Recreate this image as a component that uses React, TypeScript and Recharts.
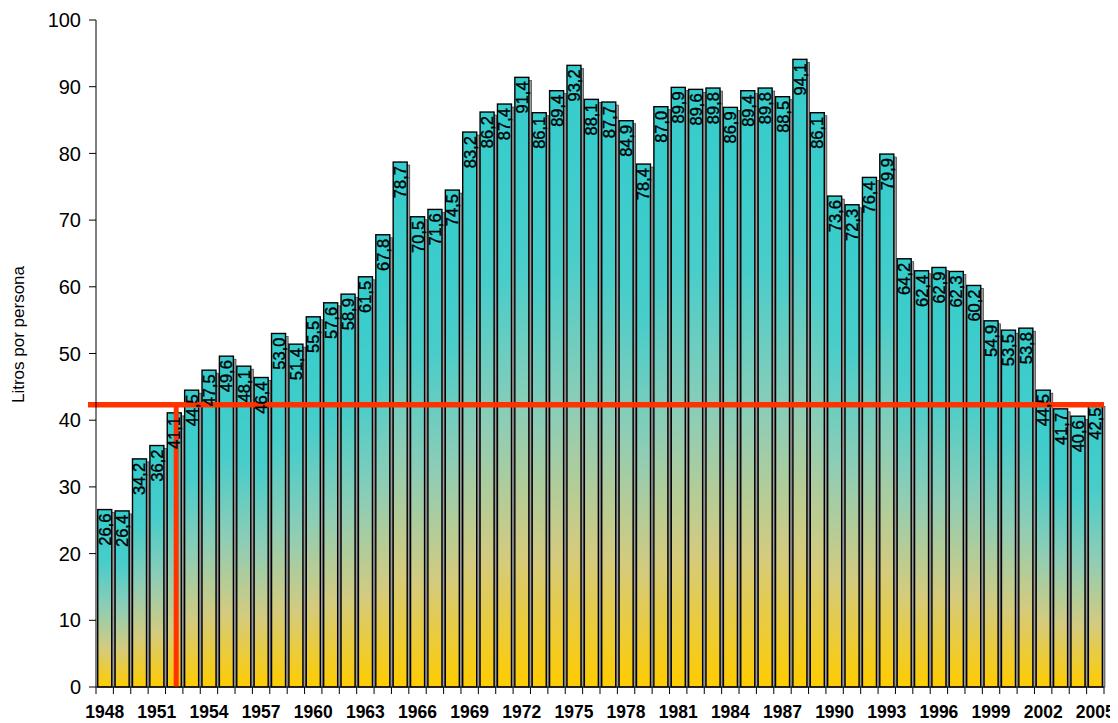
import React from 'react';
import { BarChart, Bar, XAxis, YAxis, ReferenceLine, LabelList } from 'recharts';

const years = [
  '1948','1949','1950','1951','1952','1953','1954','1955','1956','1957',
  '1958','1959','1960','1961','1962','1963','1964','1965','1966','1967',
  '1968','1969','1970','1971','1972','1973','1974','1975','1976','1977',
  '1978','1979','1980','1981','1982','1983','1984','1985','1986','1987',
  '1988','1989','1990','1991','1992','1993','1994','1995','1996','1997',
  '1998','1999','2000','2001','2002','2003','2004','2005',
];

const litros = [
  26.6, 26.4, 34.2, 36.2, 41.1, 44.5, 47.5, 49.6, 48.1, 46.4,
  53.0, 51.4, 55.5, 57.6, 58.9, 61.5, 67.8, 78.7, 70.5, 71.6,
  74.5, 83.2, 86.2, 87.4, 91.4, 86.1, 89.4, 93.2, 88.1, 87.7,
  84.9, 78.4, 87.0, 89.9, 89.6, 89.8, 86.9, 89.4, 89.8, 88.5,
  94.1, 86.1, 73.6, 72.3, 76.4, 79.9, 64.2, 62.4, 62.9, 62.3,
  60.2, 54.9, 53.5, 53.8, 44.5, 41.7, 40.6, 42.5,
];

const xTickLabels = ['1948','1951','1954','1957','1960','1963','1966','1969','1972','1975','1978','1981','1984','1987','1990','1993','1996','1999','2002','2005'];
const yTicks = [0, 10, 20, 30, 40, 50, 60, 70, 80, 90, 100];
const averageValue = 42.3;
const markerYear = '1952';

const data = years.map((year, i) => ({ year, value: litros[i] }));

const W = 1110;
const H = 715;
const M = { top: 12, right: 14, bottom: 6, left: 28 };
const YW = 60;
const BAND = (W - M.left - M.right - YW) / years.length;
const FONT = '"Liberation Sans", Arial, Helvetica, sans-serif';

const BarShape = (p: any) => {
  const { x, y, width, height } = p;
  if (!height || height <= 0) return null;
  return (
    <g>
      <rect x={x + width} y={y + 3} width={2.6} height={height - 3} fill="#9a9a9a" stroke="#222" strokeWidth={0.6} />
      <rect x={x} y={y} width={width} height={height} fill="url(#barGrad)" stroke="#000" strokeWidth={1.4} />
    </g>
  );
};

const XTick = (p: any) => {
  const { x, y, payload } = p;
  const idx = payload?.index ?? p.index ?? 0;
  const label = String(payload?.value);
  const show = xTickLabels.includes(label);
  return (
    <g>
      <line x1={x - BAND / 2} x2={x - BAND / 2} y1={y} y2={y + 7} stroke="#000" strokeWidth={1} />
      {idx === years.length - 1 && (
        <line x1={x + BAND / 2} x2={x + BAND / 2} y1={y} y2={y + 7} stroke="#000" strokeWidth={1} />
      )}
      {show && (
        <text x={x} y={y + 31} textAnchor="middle" fontSize={17.5} fontWeight="bold" fill="#000" fontFamily={FONT}>
          {label}
        </text>
      )}
    </g>
  );
};

const ValueLabel = (p: any) => {
  const { x, y, width, value } = p;
  const cx = x + width / 2;
  const ty = y + 4;
  return (
    <text
      x={cx}
      y={ty}
      transform={`rotate(-90 ${cx} ${ty})`}
      textAnchor="end"
      dominantBaseline="central"
      fontSize={16.5}
      fill="#000"
      stroke="#000"
      strokeWidth={0.4}
      fontFamily={FONT}
    >
      {Number(value).toFixed(1).replace('.', ',')}
    </text>
  );
};

const YLabel = (p: any) => {
  const vb = p.viewBox || { x: 0, y: 0, width: 0, height: 0 };
  const cx = 10;
  const cy = vb.y + vb.height / 2 - 19;
  return (
    <text
      x={cx}
      y={cy}
      transform={`rotate(-90 ${cx} ${cy})`}
      textAnchor="middle"
      dominantBaseline="central"
      fontSize={17}
      fill="#000"
      fontFamily={FONT}
    >
      Litros por persona
    </text>
  );
};

function YLabelWrap(p: any) {
  return <YLabel {...p} />;
}

export default function App() {
  return (
    <BarChart width={W} height={H} data={data} margin={M} barCategoryGap="10%">
      <defs>
        <linearGradient id="barGrad" x1="0" y1="0" x2="0" y2="1">
          <stop offset="0%" stopColor="#33CCCC" />
          <stop offset="30%" stopColor="#48CDCA" />
          <stop offset="55%" stopColor="#8ECDB6" />
          <stop offset="78%" stopColor="#D4CB7E" />
          <stop offset="100%" stopColor="#FFCC00" />
        </linearGradient>
      </defs>
      <XAxis
        dataKey="year"
        interval={0}
        tick={<XTick />}
        tickLine={false}
        tickSize={0}
        tickMargin={0}
        axisLine={{ stroke: '#000', strokeWidth: 1 }}
        height={30}
      />
      <YAxis
        width={YW}
        domain={[0, 100]}
        ticks={yTicks}
        interval={0}
        tickSize={7}
        tickMargin={8}
        tickLine={{ stroke: '#000' }}
        axisLine={{ stroke: '#000', strokeWidth: 1 }}
        tick={{ fill: '#000', fontSize: 20, fontFamily: FONT }}
        label={<YLabelWrap />}
      />
      <Bar dataKey="value" shape={<BarShape />} isAnimationActive={false}>
        <LabelList dataKey="value" content={<ValueLabel />} />
      </Bar>
      <ReferenceLine
        y={averageValue}
        stroke="#FF3300"
        strokeWidth={5.5}
        shape={(s: any) => (
          <line x1={s.x1 - 8} y1={s.y1} x2={s.x2} y2={s.y2} stroke="#FF3300" strokeWidth={5.5} />
        )}
      />
      <ReferenceLine
        segment={[{ x: markerYear, y: 0 }, { x: markerYear, y: averageValue }]}
        stroke="#FF3300"
        strokeWidth={5}
        shape={(s: any) => (
          <line x1={s.x1 + 2} y1={s.y1} x2={s.x2 + 2} y2={s.y2} stroke="#FF3300" strokeWidth={5} />
        )}
      />
    </BarChart>
  );
}
